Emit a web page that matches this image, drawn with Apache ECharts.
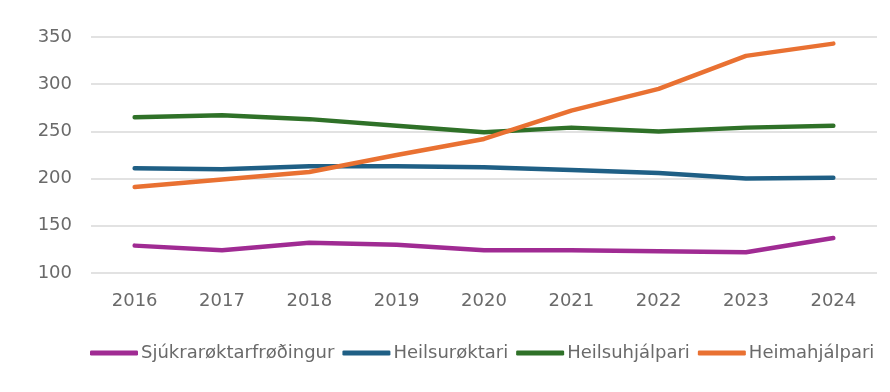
<!DOCTYPE html>
<html>
<head>
<meta charset="utf-8">
<script src="https://cdn.jsdelivr.net/npm/echarts@6/dist/echarts.min.js"></script>
<style>html,body{margin:0;padding:0;background:#fff;}#chart{width:890px;height:392px;}</style>
</head>
<body>
<div id="chart"></div>
<script>
const years = ['2016','2017','2018','2019','2020','2021','2022','2023','2024'];
const seriesNames = ['Sjúkrarøktarfrøðingur','Heilsurøktari','Heilsuhjálpari','Heimahjálpari'];
const sjukrar = [129, 124, 132, 130, 124, 124, 123, 122, 137];
const heilsurokt = [211, 210, 213, 213, 212, 209, 206, 200, 201];
const heilsuhjalp = [265, 267, 263, 256, 249, 254, 250, 254, 256];
const heimahjalp = [191, 199, 207, 225, 242, 272, 295, 330, 343];
const yTicks = {min: 100, max: 350, interval: 50};
const colors = ['#A02B93', '#1F5F85', '#2F7128', '#E97132'];

const dataSets = [sjukrar, heilsurokt, heilsuhjalp, heimahjalp];
const font = 'DejaVu Sans';
const chart = echarts.init(document.getElementById('chart'), null, {renderer: 'canvas'});
chart.setOption({
  animation: false,
  color: colors,
  grid: {left: 91, right: 13, top: 37, bottom: 119},
  legend: {
    bottom: 25, left: 85,
    itemWidth: 48, itemHeight: 5, itemGap: 8,
    icon: 'roundRect',
    textStyle: {fontFamily: font, fontSize: 18, color: '#6a6a6a', padding: [0,0,0,-2]},
    data: seriesNames
  },
  xAxis: {
    type: 'category', data: years, boundaryGap: true,
    axisLine: {show: false}, axisTick: {show: false},
    axisLabel: {fontFamily: font, fontSize: 18, color: '#6a6a6a', margin: 19}
  },
  yAxis: {
    type: 'value', min: yTicks.min, max: yTicks.max, interval: yTicks.interval,
    axisLine: {show: false}, axisTick: {show: false},
    axisLabel: {fontFamily: font, fontSize: 18, color: '#6a6a6a', margin: 19},
    splitLine: {lineStyle: {color: '#d9d9d9', width: 1.5}}
  },
  series: dataSets.map((d, i) => ({
    name: seriesNames[i], type: 'line', data: d,
    showSymbol: false, symbol: 'none',
    lineStyle: {width: 4.5, cap: 'round', join: 'round', color: colors[i]}
  }))
});
</script>
</body>
</html>
